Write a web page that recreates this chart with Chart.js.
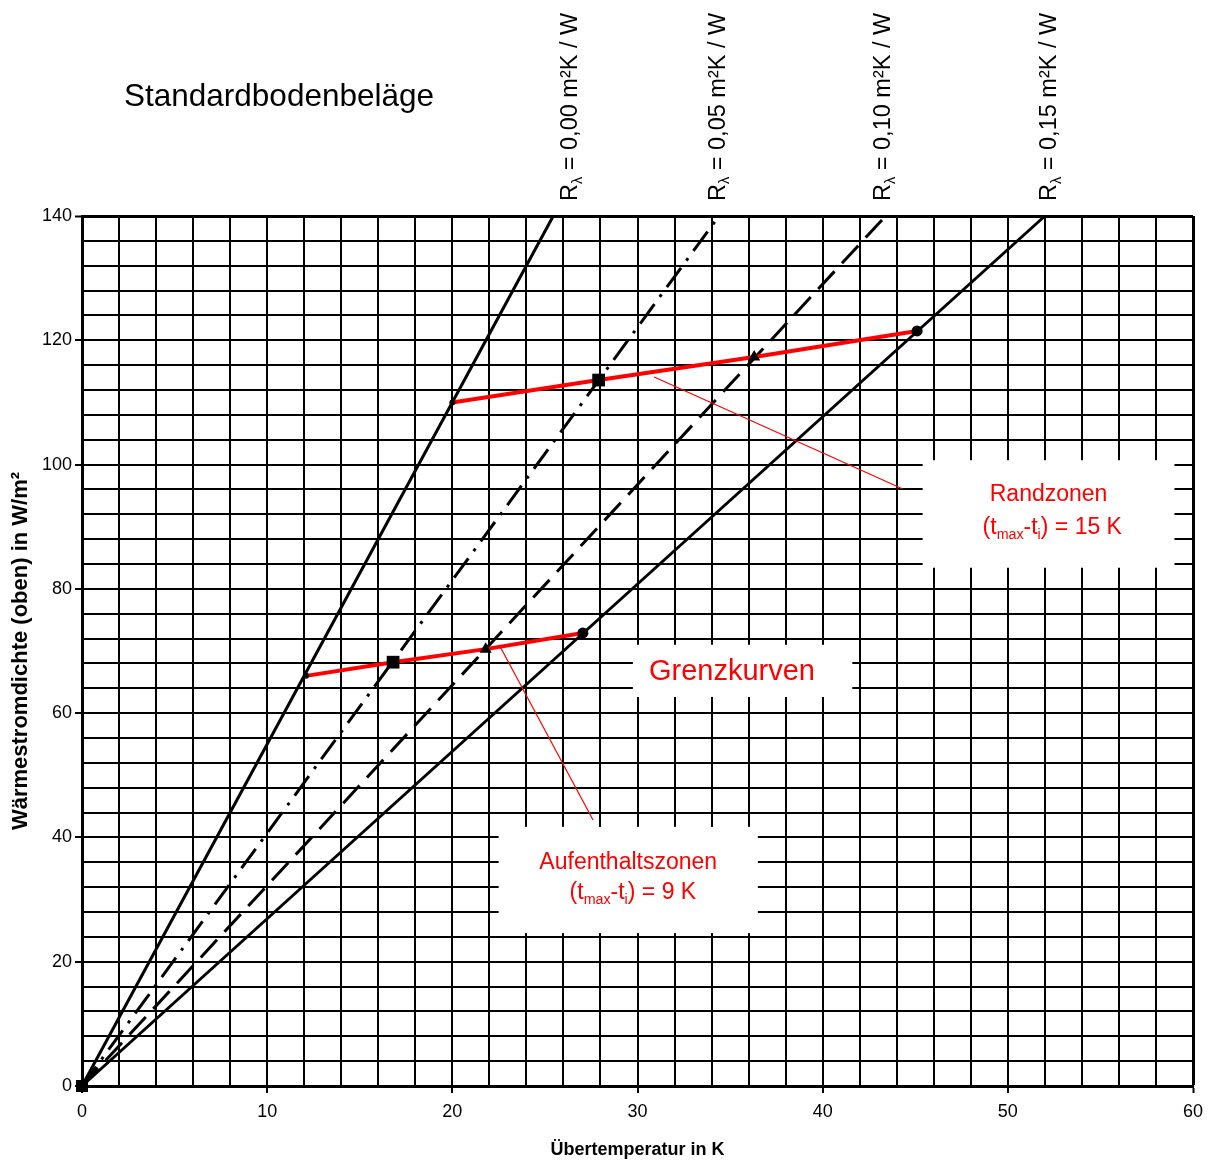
<!DOCTYPE html>
<html>
<head>
<meta charset="utf-8">
<title>Standardbodenbeläge</title>
<script src="https://cdn.jsdelivr.net/npm/chart.js@4.4.1/dist/chart.umd.min.js"></script>
<style>
  body { margin: 0; background: #fff; }
  #wrap { width: 1217px; height: 1163px; }
</style>
</head>
<body>
<div id="wrap"><canvas id="myChart" width="1217" height="1163"></canvas></div>
<script>
// Kennlinien: Übertemperatur (K) -> Wärmestromdichte (W/m²)
const curveNames = ['0,00', '0,05', '0,10', '0,15'];
const curveEndTemp = [25.45, 34.4, 43.4, 52.0];   // where each line leaves the plot at the top
const curveEndHeat = [140, 140, 140, 140];

// Grenzkurven (rot)
const randzonenTemp = [20.0, 27.9, 36.3, 45.1];
const randzonenHeat = [110.0, 113.6, 117.3, 121.5];
const aufenthaltTemp = [12.1, 16.8, 21.8, 27.05];
const aufenthaltHeat = [66.0, 68.2, 70.3, 72.9];

const xTickLabels = [0, 10, 20, 30, 40, 50, 60];
const yTickLabels = [0, 20, 40, 60, 80, 100, 120, 140];

// styles
const FONT = '"Liberation Sans", Arial, sans-serif';
const RED = '#ff0000';
const curveDash = [[], [24, 9, 3, 9], [24, 11], []];
const markerStyle = ['circle', 'rect', 'triangle', 'circle'];
const markerSize = [3, 9, 7, 5.5];

// annotations (data coordinates)
const leaderRand = [[30.9, 114.1], [44.3, 96.1]];
const leaderAuf = [[22.6, 70.6], [27.6, 42.8]];
const noteBoxes = [
  { from: [45.4, 83.4], to: [59.0, 100.7] },
  { from: [29.75, 62.6], to: [41.6, 71.0] },
  { from: [22.5, 24.6], to: [36.5, 41.7] }
];
const curveLabelTemp = [26.4, 34.35, 43.3, 52.27];

Chart.defaults.font.family = FONT;
Chart.defaults.color = '#000';

function toXY(xs, ys) {
  return xs.map((v, i) => ({ x: v, y: ys[i] }));
}

function drawRich(ctx, parts, cx, cy, size, align) {
  const f = sub => (sub ? size * 0.62 : size) + 'px ' + FONT;
  let w = 0;
  parts.forEach(p => { ctx.font = f(p[1]); w += ctx.measureText(p[0]).width; });
  let xx = align === 'left' ? cx : cx - w / 2;
  parts.forEach(p => {
    ctx.font = f(p[1]);
    ctx.fillText(p[0], xx, cy + (p[1] ? size * 0.3 : 0));
    xx += ctx.measureText(p[0]).width;
  });
}

const decor = {
  id: 'decor',
  beforeDatasetsDraw(chart) {
    const { ctx, scales: { x, y } } = chart;
    ctx.save();
    ctx.fillStyle = '#fff';
    noteBoxes.forEach(b => {
      const l = x.getPixelForValue(b.from[0]), r = x.getPixelForValue(b.to[0]);
      const t = y.getPixelForValue(b.to[1]), btm = y.getPixelForValue(b.from[1]);
      ctx.fillRect(l, t, r - l, btm - t);
    });
    ctx.restore();
  },
  afterDraw(chart) {
    const { ctx, scales: { x, y } } = chart;
    ctx.save();
    ctx.textBaseline = 'middle';
    ctx.textAlign = 'left';
    ctx.fillStyle = '#000';
    ctx.font = '31.5px ' + FONT;
    ctx.fillText('Standardbodenbeläge', 124, 97);

    // white gap of the third label box on the top frame
    const gx = x.getPixelForValue(curveLabelTemp[2]);
    ctx.fillStyle = '#fff';
    ctx.fillRect(gx - 36, 204, 74, 11);

    ctx.fillStyle = '#000';
    curveNames.forEach((n, i) => {
      ctx.save();
      ctx.translate(x.getPixelForValue(curveLabelTemp[i]), 201);
      ctx.rotate(-Math.PI / 2);
      drawRich(ctx, [['R'], ['λ', true], [' = ' + n + ' m²K / W']], 0, 0, 23.5, 'left');
      ctx.restore();
    });

    ctx.fillStyle = RED;
    const px = (a, b) => [x.getPixelForValue(a), y.getPixelForValue(b)];
    let p = px(52.2, 95.1);
    drawRich(ctx, [['Randzonen']], p[0], p[1], 23);
    p = px(52.4, 89.8);
    drawRich(ctx, [['(t'], ['max', true], ['-t'], ['i', true], [') = 15 K']], p[0], p[1], 23);
    p = px(35.1, 66.6);
    drawRich(ctx, [['Grenzkurven']], p[0], p[1], 29);
    p = px(29.5, 36.0);
    drawRich(ctx, [['Aufenthaltszonen']], p[0], p[1], 23);
    p = px(29.75, 31.1);
    drawRich(ctx, [['(t'], ['max', true], ['-t'], ['i', true], [') = 9 K']], p[0], p[1], 23);
    ctx.restore();
  }
};

const datasets = [];
datasets.push({
  data: toXY(randzonenTemp, randzonenHeat), borderColor: RED, borderWidth: 4, order: 1,
  pointStyle: markerStyle, pointRadius: markerSize,
  pointBackgroundColor: '#000', pointBorderColor: '#000', pointBorderWidth: 0
});
datasets.push({
  data: toXY(aufenthaltTemp, aufenthaltHeat), borderColor: RED, borderWidth: 4, order: 1,
  pointStyle: markerStyle, pointRadius: markerSize,
  pointBackgroundColor: '#000', pointBorderColor: '#000', pointBorderWidth: 0
});
[leaderRand, leaderAuf].forEach(l => {
  datasets.push({
    data: l.map(q => ({ x: q[0], y: q[1] })), borderColor: RED, borderWidth: 1.2,
    pointRadius: 0, order: 2
  });
});
curveNames.forEach((n, i) => {
  datasets.push({
    label: 'R = ' + n,
    data: [{ x: 0, y: 0 }, { x: curveEndTemp[i], y: curveEndHeat[i] }],
    borderColor: '#000', borderWidth: 3, borderDash: curveDash[i], order: 3,
    clip: 10,
    pointStyle: 'rect', pointRadius: i === 3 ? [8.5, 0] : 0,
    pointBackgroundColor: '#000', pointBorderColor: '#000', pointBorderWidth: 0
  });
});

var ctx = document.getElementById('myChart').getContext('2d');
var chart = new Chart(ctx, {
  type: 'line',
  data: { datasets: datasets },
  plugins: [decor],
  options: {
    responsive: false,
    animation: false,
    events: [],
    layout: { padding: { top: 216, right: 24, left: 0, bottom: 0 } },
    plugins: { legend: { display: false }, tooltip: { enabled: false } },
    elements: { line: { tension: 0, fill: false } },
    scales: {
      x: {
        type: 'linear', min: 0, max: 60,
        afterFit: s => { s.height = 77; },
        ticks: {
          stepSize: 2, autoSkip: false, maxRotation: 0, padding: 8,
          color: '#000', font: { size: 18 },
          callback: v => xTickLabels.includes(v) ? v : ''
        },
        grid: {
          color: '#000', tickLength: 7, tickWidth: 2,
          lineWidth: c => c.tick && c.tick.value === 60 ? 3 : 2,
          tickColor: c => c.tick && xTickLabels.includes(c.tick.value) ? '#000' : 'rgba(0,0,0,0)'
        },
        border: { color: '#000', width: 3 },
        title: {
          display: true, text: 'Übertemperatur in K', color: '#000',
          font: { size: 18, weight: 'bold' }, padding: { top: 0, bottom: 2 }
        }
      },
      y: {
        type: 'linear', min: 0, max: 140,
        afterFit: s => { s.width = 82; },
        ticks: {
          stepSize: 4, autoSkip: false, padding: 3,
          color: '#000', font: { size: 18 },
          callback: v => yTickLabels.includes(v) ? v : ''
        },
        grid: {
          color: '#000', tickLength: 7, tickWidth: 2,
          lineWidth: c => c.tick && c.tick.value === 140 ? 3 : 2,
          tickColor: c => c.tick && yTickLabels.includes(c.tick.value) ? '#000' : 'rgba(0,0,0,0)'
        },
        border: { color: '#000', width: 3 },
        title: {
          display: true, text: 'Wärmestromdichte (oben) in W/m²', color: '#000',
          font: { size: 22, weight: 'bold' }, padding: { top: 8, bottom: 0 }
        }
      }
    }
  }
});
</script>
</body>
</html>
